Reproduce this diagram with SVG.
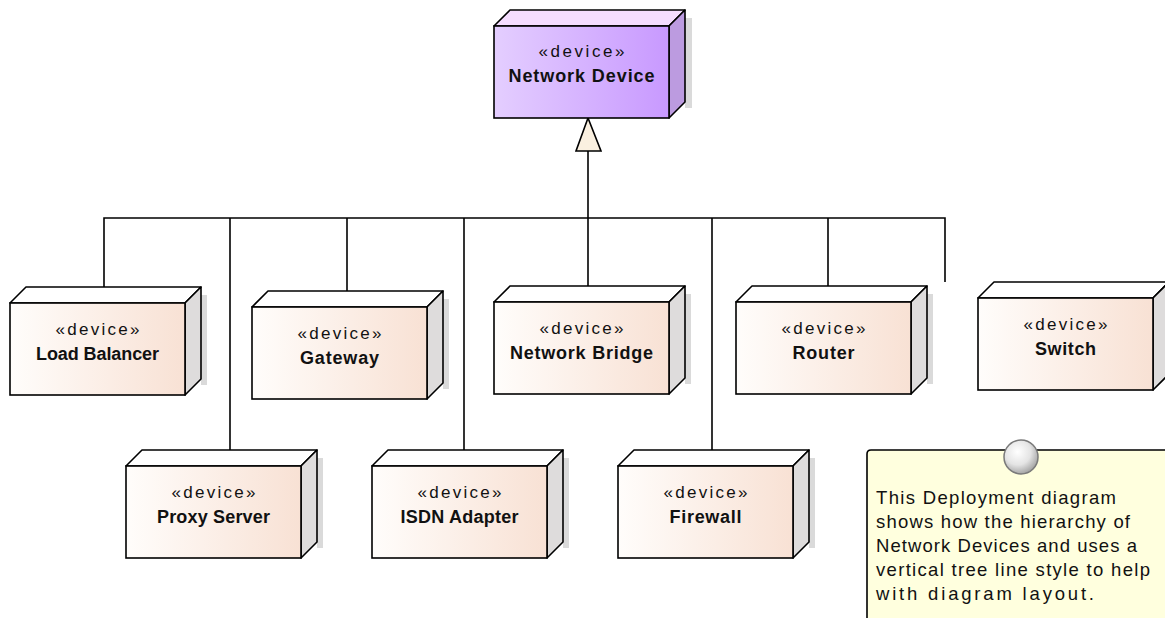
<svg xmlns="http://www.w3.org/2000/svg" width="1165" height="618" viewBox="0 0 1165 618">
<defs>
<linearGradient id="gFront" x1="0" y1="0" x2="1" y2="0">
<stop offset="0" stop-color="#FFFDFB"/>
<stop offset="1" stop-color="#F8E1D4"/>
</linearGradient>
<linearGradient id="gPurple" x1="0" y1="0" x2="1" y2="0">
<stop offset="0" stop-color="#E4CEFF"/>
<stop offset="1" stop-color="#C899FF"/>
</linearGradient>
<radialGradient id="gPin" cx="0.4" cy="0.35" r="0.7">
<stop offset="0" stop-color="#FFFFFF"/>
<stop offset="0.55" stop-color="#E4E4E4"/>
<stop offset="1" stop-color="#9C9C9C"/>
</radialGradient>
</defs>
<style>
.front{fill:url(#gFront);stroke:#000;stroke-width:1.6}
.top{fill:#FFFFFF;stroke:#000;stroke-width:1.6;stroke-linejoin:round}
.side{fill:#DEDCDC;stroke:#000;stroke-width:1.6;stroke-linejoin:round}
.shadow{fill:#DADADA}
.pfront{fill:url(#gPurple);stroke:#000;stroke-width:1.6}
.ptop{fill:#F5DDFF;stroke:#000;stroke-width:1.6;stroke-linejoin:round}
.pside{fill:#BC9BE0;stroke:#000;stroke-width:1.6;stroke-linejoin:round}
.st{font-family:"Liberation Sans",Arial,sans-serif;font-size:17px;fill:#111;text-anchor:middle}
.nm{font-family:"Liberation Sans",Arial,sans-serif;font-size:18px;font-weight:bold;fill:#111;text-anchor:middle}
.conn{fill:none;stroke:#000;stroke-width:1.6}
.note{fill:#FFFFDE;stroke:#000;stroke-width:1.6}
.nt{font-family:"Liberation Sans",Arial,sans-serif;font-size:18.5px;fill:#111}
</style>

<g id="connectors">
<polyline class="conn" points="104,287 104,218 945,218 945,282"/>
<line class="conn" x1="230" y1="218" x2="230" y2="450"/>
<line class="conn" x1="347" y1="218" x2="347" y2="291"/>
<line class="conn" x1="464" y1="218" x2="464" y2="450"/>
<line class="conn" x1="588" y1="151" x2="588" y2="286"/>
<line class="conn" x1="712" y1="218" x2="712" y2="450"/>
<line class="conn" x1="828" y1="218" x2="828" y2="286"/>
<polygon points="588,118 576,151 601,151" fill="#FAF0E0" stroke="#000" stroke-width="1.6" stroke-linejoin="miter"/>
</g>

<g id="network-device">
<rect class="shadow" x="685" y="18" width="7" height="90"/>
<polygon class="ptop" points="494,26 510,10 685,10 669,26"/>
<polygon class="pside" points="669,26 685,10 685,102 669,118"/>
<rect class="pfront" x="494" y="26" width="175" height="92"/>
<text class="st" x="581.5" y="57" textLength="86" lengthAdjust="spacing">«device»</text>
<text class="nm" x="581.5" y="82" textLength="146" lengthAdjust="spacing">Network Device</text>
</g>

<g id="load-balancer">
<rect class="shadow" x="201" y="295" width="6" height="90"/>
<polygon class="top" points="10,303 26,287 201,287 185,303"/>
<polygon class="side" points="185,303 201,287 201,379 185,395"/>
<rect class="front" x="10" y="303" width="175" height="92"/>
<text class="st" x="97.5" y="335" textLength="84" lengthAdjust="spacing">«device»</text>
<text class="nm" x="97.5" y="360" textLength="123" lengthAdjust="spacing">Load Balancer</text>
</g>

<g id="gateway">
<rect class="shadow" x="443" y="299" width="6" height="90"/>
<polygon class="top" points="252,307 268,291 443,291 427,307"/>
<polygon class="side" points="427,307 443,291 443,383 427,399"/>
<rect class="front" x="252" y="307" width="175" height="92"/>
<text class="st" x="339.5" y="339" textLength="84" lengthAdjust="spacing">«device»</text>
<text class="nm" x="339.5" y="364" textLength="79" lengthAdjust="spacing">Gateway</text>
</g>

<g id="network-bridge">
<rect class="shadow" x="685" y="294" width="6" height="90"/>
<polygon class="top" points="494,302 510,286 685,286 669,302"/>
<polygon class="side" points="669,302 685,286 685,378 669,394"/>
<rect class="front" x="494" y="302" width="175" height="92"/>
<text class="st" x="581.5" y="334" textLength="84" lengthAdjust="spacing">«device»</text>
<text class="nm" x="581.5" y="359" textLength="143" lengthAdjust="spacing">Network Bridge</text>
</g>

<g id="router">
<rect class="shadow" x="927" y="294" width="6" height="90"/>
<polygon class="top" points="736,302 752,286 927,286 911,302"/>
<polygon class="side" points="911,302 927,286 927,378 911,394"/>
<rect class="front" x="736" y="302" width="175" height="92"/>
<text class="st" x="823.5" y="334" textLength="84" lengthAdjust="spacing">«device»</text>
<text class="nm" x="823.5" y="359" textLength="62" lengthAdjust="spacing">Router</text>
</g>

<g id="switch">
<rect class="shadow" x="1169" y="290" width="6" height="90"/>
<polygon class="top" points="978,298 994,282 1169,282 1153,298"/>
<polygon class="side" points="1153,298 1169,282 1169,374 1153,390"/>
<rect class="front" x="978" y="298" width="175" height="92"/>
<text class="st" x="1065.5" y="330" textLength="84" lengthAdjust="spacing">«device»</text>
<text class="nm" x="1065.5" y="355" textLength="61" lengthAdjust="spacing">Switch</text>
</g>

<g id="proxy-server">
<rect class="shadow" x="317" y="458" width="6" height="90"/>
<polygon class="top" points="126,466 142,450 317,450 301,466"/>
<polygon class="side" points="301,466 317,450 317,542 301,558"/>
<rect class="front" x="126" y="466" width="175" height="92"/>
<text class="st" x="213.5" y="498" textLength="84" lengthAdjust="spacing">«device»</text>
<text class="nm" x="213.5" y="523" textLength="113" lengthAdjust="spacing">Proxy Server</text>
</g>

<g id="isdn-adapter">
<rect class="shadow" x="563" y="458" width="6" height="90"/>
<polygon class="top" points="372,466 388,450 563,450 547,466"/>
<polygon class="side" points="547,466 563,450 563,542 547,558"/>
<rect class="front" x="372" y="466" width="175" height="92"/>
<text class="st" x="459.5" y="498" textLength="84" lengthAdjust="spacing">«device»</text>
<text class="nm" x="459.5" y="523" textLength="118" lengthAdjust="spacing">ISDN Adapter</text>
</g>

<g id="firewall">
<rect class="shadow" x="809" y="458" width="6" height="90"/>
<polygon class="top" points="618,466 634,450 809,450 793,466"/>
<polygon class="side" points="793,466 809,450 809,542 793,558"/>
<rect class="front" x="618" y="466" width="175" height="92"/>
<text class="st" x="705.5" y="498" textLength="84" lengthAdjust="spacing">«device»</text>
<text class="nm" x="705.5" y="523" textLength="72" lengthAdjust="spacing">Firewall</text>
</g>

<g id="note">
<path class="note" d="M867,625 L867,454 Q867,450 871,450 L1175,450 L1175,625 Z"/>
<circle cx="1021" cy="457" r="17" fill="url(#gPin)" stroke="#7A7A7A" stroke-width="1.5"/>
<text class="nt" x="876" y="504" textLength="240" lengthAdjust="spacing">This Deployment diagram</text>
<text class="nt" x="876" y="528" textLength="254" lengthAdjust="spacing">shows how the hierarchy of</text>
<text class="nt" x="876" y="552" textLength="261" lengthAdjust="spacing">Network Devices and uses a</text>
<text class="nt" x="876" y="576" textLength="274" lengthAdjust="spacing">vertical tree line style to help</text>
<text class="nt" x="876" y="600" textLength="218" lengthAdjust="spacing">with diagram layout.</text>
</g>
</svg>
